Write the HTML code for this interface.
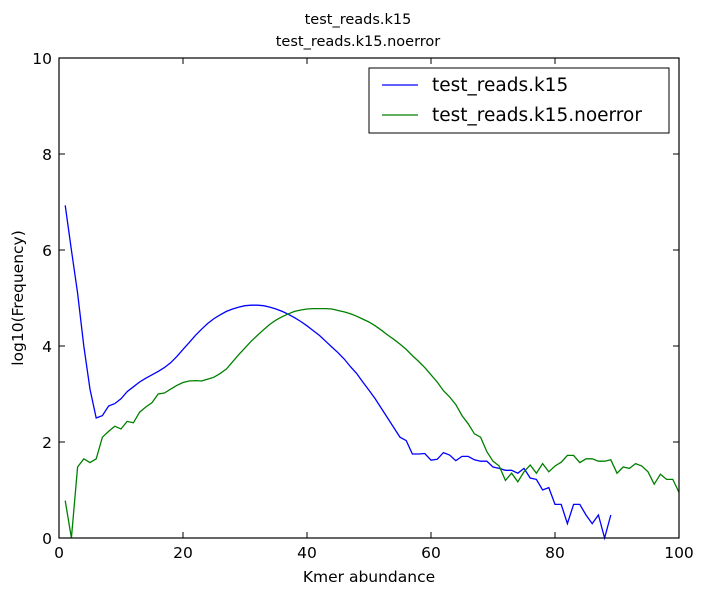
<!DOCTYPE html>
<html><head><meta charset="utf-8"><style>
body{margin:0;background:#fff;}
svg{display:block;font-family:"DejaVu Sans","Liberation Sans",sans-serif;}
</style></head><body>
<svg id="chart" width="703" height="596">
<text x="358" y="24" text-anchor="middle" font-size="14.5">test_reads.k15</text>
<text x="358" y="46" text-anchor="middle" font-size="14.5">test_reads.k15.noerror</text>
<g id="ticks"></g>
<g id="series"></g>
<rect x="59" y="58" width="620" height="480" fill="none" stroke="#000" stroke-width="1.2"/>
<text x="369" y="582" text-anchor="middle" font-size="15.5">Kmer abundance</text>
<text transform="translate(23,298) rotate(-90)" text-anchor="middle" font-size="15.5">log10(Frequency)</text>
<g>
<rect x="369" y="68" width="300" height="65" fill="#fff" stroke="#000" stroke-width="1"/>
<line x1="382" y1="85" x2="418" y2="85" stroke="#0000ff" stroke-width="1.3"/>
<text x="432" y="91" font-size="18.5">test_reads.k15</text>
<line x1="382" y1="115" x2="418" y2="115" stroke="#008000" stroke-width="1.3"/>
<text x="432" y="121" font-size="18.5">test_reads.k15.noerror</text>
</g>
</svg>
<script>
const xTicks=[0,20,40,60,80,100];
const yTicks=[0,2,4,6,8,10];
const blueVals=[6.93,6.0,5.1,4.0,3.1,2.5,2.55,2.75,2.8,2.9,3.05,3.15,3.25,3.33,3.4,3.47,3.55,3.65,3.78,3.93,4.07,4.22,4.35,4.47,4.57,4.65,4.72,4.77,4.81,4.84,4.85,4.85,4.84,4.81,4.77,4.72,4.66,4.59,4.51,4.42,4.32,4.22,4.1,3.98,3.86,3.73,3.57,3.43,3.25,3.08,2.9,2.7,2.5,2.3,2.1,2.03,1.75,1.75,1.76,1.62,1.64,1.78,1.73,1.61,1.7,1.7,1.63,1.6,1.6,1.48,1.45,1.41,1.41,1.35,1.45,1.25,1.22,1.0,1.05,0.7,0.7,0.3,0.7,0.7,0.48,0.3,0.48,0.0,0.48];
const greenVals=[0.78,0.0,1.48,1.65,1.57,1.65,2.1,2.22,2.33,2.27,2.43,2.4,2.62,2.73,2.82,3.0,3.02,3.1,3.18,3.24,3.27,3.28,3.27,3.31,3.35,3.43,3.52,3.67,3.82,3.96,4.1,4.22,4.34,4.45,4.54,4.61,4.67,4.72,4.75,4.77,4.78,4.78,4.78,4.77,4.74,4.71,4.67,4.62,4.56,4.5,4.42,4.33,4.23,4.14,4.04,3.93,3.8,3.68,3.55,3.4,3.25,3.07,2.94,2.78,2.55,2.38,2.17,2.1,1.8,1.6,1.5,1.2,1.35,1.17,1.38,1.52,1.35,1.55,1.38,1.5,1.58,1.72,1.72,1.57,1.65,1.65,1.6,1.6,1.63,1.35,1.48,1.45,1.55,1.5,1.38,1.12,1.33,1.22,1.22,0.95];
const X=v=>59+v*6.2, Y=v=>538-v*48;
const NS='http://www.w3.org/2000/svg';
const tg=document.getElementById('ticks'), sg=document.getElementById('series');
function mk(t,a,p){const e=document.createElementNS(NS,t);for(const k in a)e.setAttribute(k,a[k]);p.appendChild(e);return e;}
xTicks.forEach(v=>{
 const l1=mk('line',{x1:X(v),x2:X(v),y1:538,y2:532,stroke:'#000'},tg);
 
 
 const l2=mk('line',{x1:X(v),x2:X(v),y1:58,y2:64,stroke:'#000'},tg);
 
 
 const t=mk('text',{x:X(v),y:558,'text-anchor':'middle','font-size':15.5},tg);t.textContent=v;
 
 
});
yTicks.forEach(v=>{
 const l1=mk('line',{x1:59,x2:65,y1:Y(v),y2:Y(v),stroke:'#000'},tg);
 
 
 const l2=mk('line',{x1:673,x2:679,y1:Y(v),y2:Y(v),stroke:'#000'},tg);
 
 
 const t=mk('text',{x:52,y:Y(v)+6,'text-anchor':'end','font-size':15.5},tg);t.textContent=v;
 
 
});
function line(vals,color,name){
 const d=vals.map((v,i)=>(i?'L':'M')+X(i+1).toFixed(1)+','+Y(v).toFixed(1)).join('');
 const p=mk('path',{d:d,fill:'none',stroke:color,'stroke-width':1.3},sg);
 
 
}
line(blueVals,'#0000ff','line-k15');
line(greenVals,'#008000','line-k15-noerror');
</script>
</body></html>
